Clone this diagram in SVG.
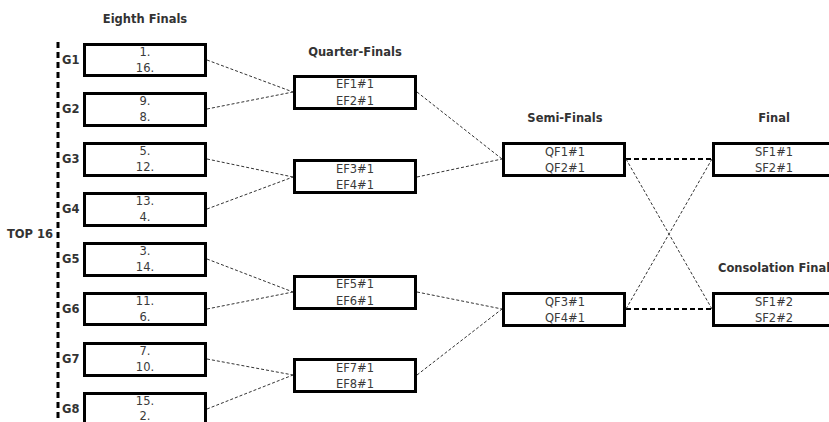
<svg xmlns="http://www.w3.org/2000/svg" width="829" height="422" viewBox="0 0 829 422">
<style>
.box{fill:#fff;stroke:#000;stroke-width:3}
.t{font-family:"DejaVu Sans",Verdana,sans-serif;font-size:11.5px;fill:#3a3a3a;text-anchor:middle}
.h{font-family:"DejaVu Sans",Verdana,sans-serif;font-size:11.5px;font-weight:bold;fill:#333}
.hc{text-anchor:middle}
.thin{fill:none;stroke:#333;stroke-width:1;stroke-dasharray:3 2}
.thick{fill:none;stroke:#000;stroke-width:2.2;stroke-dasharray:5 3}
.side{fill:none;stroke:#000;stroke-width:3;stroke-dasharray:6 4}
</style>
<rect width="829" height="422" fill="#fff"/>
<g id="titles">
<text class="h hc" x="145" y="23">Eighth Finals</text>
<text class="h hc" x="355" y="56">Quarter-Finals</text>
<text class="h hc" x="565" y="122">Semi-Finals</text>
<text class="h hc" x="774" y="122">Final</text>
<text class="h" x="718" y="272">Consolation Final</text>
</g>
<g id="side">
<line class="side" x1="58" y1="42" x2="58" y2="422"/>
<text class="h" x="7" y="238">TOP 16</text>
<text class="h" x="62" y="64">G1</text>
<text class="h" x="62" y="113">G2</text>
<text class="h" x="62" y="163">G3</text>
<text class="h" x="62" y="213">G4</text>
<text class="h" x="62" y="263">G5</text>
<text class="h" x="62" y="313">G6</text>
<text class="h" x="62" y="363">G7</text>
<text class="h" x="62" y="413">G8</text>
</g>
<g id="connectors">
<line class="thin" x1="207" y1="60" x2="293" y2="92"/>
<line class="thin" x1="207" y1="109" x2="293" y2="92"/>
<line class="thin" x1="207" y1="159" x2="293" y2="177"/>
<line class="thin" x1="207" y1="209" x2="293" y2="177"/>
<line class="thin" x1="207" y1="259" x2="293" y2="292"/>
<line class="thin" x1="207" y1="309" x2="293" y2="292"/>
<line class="thin" x1="207" y1="359" x2="293" y2="375"/>
<line class="thin" x1="207" y1="409" x2="293" y2="375"/>
<line class="thin" x1="417" y1="92" x2="502" y2="159"/>
<line class="thin" x1="417" y1="177" x2="502" y2="159"/>
<line class="thin" x1="417" y1="292" x2="502" y2="309"/>
<line class="thin" x1="417" y1="375" x2="502" y2="309"/>
<line class="thick" x1="626" y1="159" x2="712" y2="159"/>
<line class="thick" x1="626" y1="309" x2="712" y2="309"/>
<line class="thin" x1="626" y1="159" x2="712" y2="309"/>
<line class="thin" x1="626" y1="309" x2="712" y2="159"/>
</g>
<g id="G1"><rect class="box" x="84.5" y="44.5" width="121" height="31"/><text class="t" x="145" y="56">1.</text><text class="t" x="145" y="72">16.</text></g>
<g id="G2"><rect class="box" x="84.5" y="93.5" width="121" height="32"/><text class="t" x="145" y="105">9.</text><text class="t" x="145" y="121">8.</text></g>
<g id="G3"><rect class="box" x="84.5" y="143.5" width="121" height="32"/><text class="t" x="145" y="155">5.</text><text class="t" x="145" y="171">12.</text></g>
<g id="G4"><rect class="box" x="84.5" y="193.5" width="121" height="32"/><text class="t" x="145" y="205">13.</text><text class="t" x="145" y="221">4.</text></g>
<g id="G5"><rect class="box" x="84.5" y="243.5" width="121" height="32"/><text class="t" x="145" y="255">3.</text><text class="t" x="145" y="271">14.</text></g>
<g id="G6"><rect class="box" x="84.5" y="293.5" width="121" height="31"/><text class="t" x="145" y="305">11.</text><text class="t" x="145" y="321">6.</text></g>
<g id="G7"><rect class="box" x="84.5" y="343.5" width="121" height="32"/><text class="t" x="145" y="355">7.</text><text class="t" x="145" y="371">10.</text></g>
<g id="G8"><rect class="box" x="84.5" y="393.5" width="121" height="32"/><text class="t" x="145" y="405">15.</text><text class="t" x="145" y="420">2.</text></g>
<g id="QF1"><rect class="box" x="294.5" y="76.5" width="121" height="32"/><text class="t" x="355" y="88">EF1#1</text><text class="t" x="355" y="105">EF2#1</text></g>
<g id="QF2"><rect class="box" x="294.5" y="160.5" width="121" height="32"/><text class="t" x="355" y="173">EF3#1</text><text class="t" x="355" y="189">EF4#1</text></g>
<g id="QF3"><rect class="box" x="294.5" y="276.5" width="121" height="32"/><text class="t" x="355" y="288">EF5#1</text><text class="t" x="355" y="305">EF6#1</text></g>
<g id="QF4"><rect class="box" x="294.5" y="359.5" width="121" height="32"/><text class="t" x="355" y="372">EF7#1</text><text class="t" x="355" y="388">EF8#1</text></g>
<g id="SF1"><rect class="box" x="503.5" y="143.5" width="121" height="32"/><text class="t" x="565" y="156">QF1#1</text><text class="t" x="565" y="172">QF2#1</text></g>
<g id="SF2"><rect class="box" x="503.5" y="293.5" width="121" height="32"/><text class="t" x="565" y="306">QF3#1</text><text class="t" x="565" y="322">QF4#1</text></g>
<g id="F1"><rect class="box" x="713.5" y="143.5" width="121" height="32"/><text class="t" x="774" y="156">SF1#1</text><text class="t" x="774" y="172">SF2#1</text></g>
<g id="F2"><rect class="box" x="713.5" y="293.5" width="121" height="32"/><text class="t" x="774" y="306">SF1#2</text><text class="t" x="774" y="322">SF2#2</text></g>
</svg>
